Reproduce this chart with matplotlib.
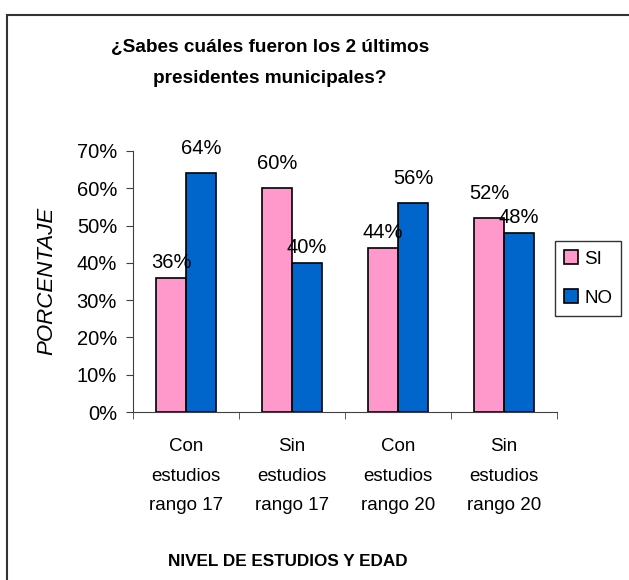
import matplotlib
matplotlib.use('Agg')
import matplotlib.pyplot as plt
import matplotlib.patches as patches
import numpy as np

plt.rcParams['font.family'] = ['Liberation Sans', 'DejaVu Sans']

# data
categories = ['Con\nestudios\nrango 17', 'Sin\nestudios\nrango 17',
              'Con\nestudios\nrango 20', 'Sin\nestudios\nrango 20']
si_values = [0.36, 0.60, 0.44, 0.52]
no_values = [0.64, 0.40, 0.56, 0.48]
series_names = ['SI', 'NO']
title = '¿Sabes cuáles fueron los 2 últimos\npresidentes municipales?'
xlabel = 'NIVEL DE ESTUDIOS Y EDAD'
ylabel = 'PORCENTAJE'

pink = '#FF99CC'
blue = '#0066CC'

fig = plt.figure(figsize=(6.29, 5.80), dpi=100)
ax = fig.add_axes([133/629, 1 - 412/580, (557 - 133)/629, (412 - 151)/580])

x = np.arange(len(categories))
w = 0.283
b1 = ax.bar(x - w/2, si_values, w, color=pink, edgecolor='black', linewidth=1.2, label=series_names[0])
b2 = ax.bar(x + w/2, no_values, w, color=blue, edgecolor='black', linewidth=1.2, label=series_names[1])

#labels: the taller bar of each pair sits a bit higher (as in the original)
for i in range(len(categories)):
	for bars, vals, other in ((b1, si_values, no_values), (b2, no_values, si_values)):
		off = 18 if vals[i] > other[i] else 11
		r = bars[i]
		ax.annotate('%d%%' % round(vals[i]*100), (r.get_x() + r.get_width()/2, vals[i]),
			xytext=(0, off), textcoords='offset points', ha='center', va='center', fontsize=14.5)

ax.set_xlim(-0.5, len(categories) - 0.5)
ax.set_ylim(0, 0.7)
ax.set_yticks(np.arange(0, 0.71, 0.1))
ax.set_yticklabels(['%d%%' % round(v*100) for v in np.arange(0, 0.71, 0.1)], fontsize=14.5)
ax.set_xticks(x)
ax.set_xticklabels(categories, fontsize=13.5, linespacing=1.95)
ax.set_xticks(np.arange(-0.5, len(categories)), minor=True)
ax.tick_params(axis='x', which='major', length=0, pad=19)
ax.tick_params(axis='x', which='minor', length=5, direction='out', color='#404040')
ax.tick_params(axis='y', length=5, direction='out', color='#404040', pad=6.5)

for s in ['top', 'right']:
	ax.spines[s].set_visible(False)
for s in ['left', 'bottom']:
	ax.spines[s].set_color('#404040')

fig.text(270/629, 1 - 63/580, title, ha='center', va='center', fontsize=13.7,
	fontweight='bold', linespacing=2.05)
fig.text(288/629, 1 - 562/580, xlabel, ha='center', va='center', fontsize=12.3, fontweight='bold')
fig.text(47/629, 1 - 281/580, ylabel, ha='center', va='center', fontsize=16,
	style='italic', rotation=90)

leg = ax.legend(loc='upper left', bbox_to_anchor=(555/629, 1 - 241/580), bbox_transform=fig.transFigure,
	fontsize=13.5, frameon=True, fancybox=False, edgecolor='black', borderpad=0.5,
	handlelength=0.75, handleheight=0.75, handletextpad=0.3, labelspacing=1.15, borderaxespad=0)
leg.get_frame().set_linewidth(1.0)

#outer chart border (only top and left visible)
fig.patches.append(patches.Rectangle((7/629, -0.1), 1.2, 1 - 15/580 + 0.1, transform=fig.transFigure,
	fill=False, edgecolor='#333333', linewidth=1.5))

plt.savefig('out.png', dpi=100)
